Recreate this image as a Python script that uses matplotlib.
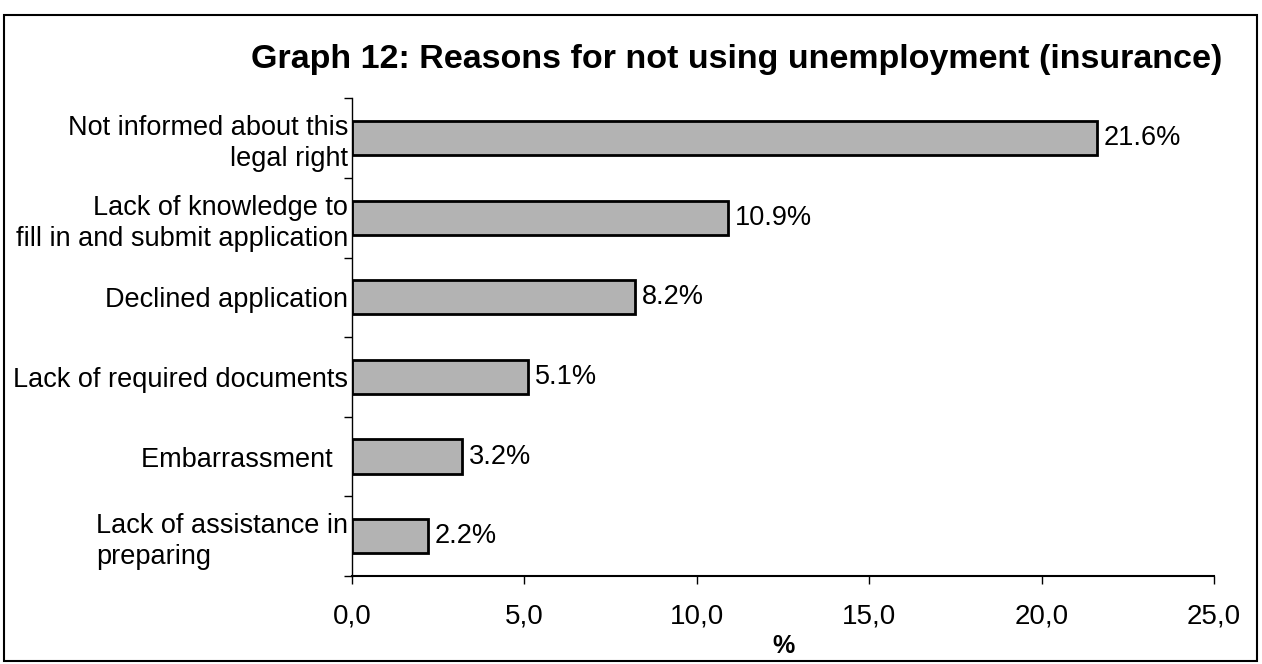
import matplotlib.pyplot as plt
from matplotlib.patches import Rectangle

plt.rcParams['font.family'] = ['Liberation Sans', 'DejaVu Sans']
plt.rcParams['font.size'] = 19.5

# data (top to bottom)
reasons = ['Not informed about this\n          legal right',
           'Lack of knowledge to\nfill in and submit application',
           'Declined application',
           'Lack of required documents',
           'Embarrassment  ',
           'Lack of assistance in\npreparing']
share = [21.6, 10.9, 8.2, 5.1, 3.2, 2.2]
xticks = [0, 5, 10, 15, 20, 25]
xtick_labels = ['0,0', '5,0', '10,0', '15,0', '20,0', '25,0']

fig = plt.figure(figsize=(12.62, 6.64), dpi=100)
ax = fig.add_axes([0.279, 0.1325, 0.683, 0.7195])

pos = list(range(len(reasons)))[::-1]
bars = ax.barh(pos, share, height=0.43, color='#b3b3b3', edgecolor='black', linewidth=2)

for b, v in zip(bars, share):
    ax.text(b.get_width() + 0.2, b.get_y() + b.get_height() / 2, f'{v:.1f}%',
            va='center', ha='left', fontsize=19.5)

ax.set_xlim(0, 25)
ax.set_ylim(-0.5, len(reasons) - 0.5)
ax.set_xticks(xticks)
ax.set_xticklabels(xtick_labels, fontsize=20)
ax.set_yticks(pos)
ax.set_yticklabels(reasons, linespacing=1.25)
for lbl in ax.get_yticklabels():
    lbl.set_multialignment('right')
ax.get_yticklabels()[-1].set_multialignment('left')

# category boundary ticks on y axis
ax.set_yticks([p + 0.5 for p in range(-1, len(reasons))], minor=True)
ax.tick_params(axis='y', which='major', length=0, pad=3)
ax.tick_params(axis='y', which='minor', length=6, width=1, direction='out')
ax.tick_params(axis='x', length=6, width=1, direction='out', pad=14)

ax.spines['top'].set_visible(False)
ax.spines['right'].set_visible(False)
ax.spines['left'].set_linewidth(1)
ax.spines['bottom'].set_linewidth(1.5)

ax.set_xlabel('%', fontweight='bold', fontsize=18, labelpad=3)
fig.text(0.584, 0.91, 'Graph 12: Reasons for not using unemployment (insurance)',
         ha='center', va='center', fontsize=24.5, fontweight='bold')

fig.patches.append(Rectangle((0.003, 0.005), 0.993, 0.972, transform=fig.transFigure,
                             fill=False, edgecolor='black', linewidth=1.5))

fig.savefig('out.png', dpi=100)
